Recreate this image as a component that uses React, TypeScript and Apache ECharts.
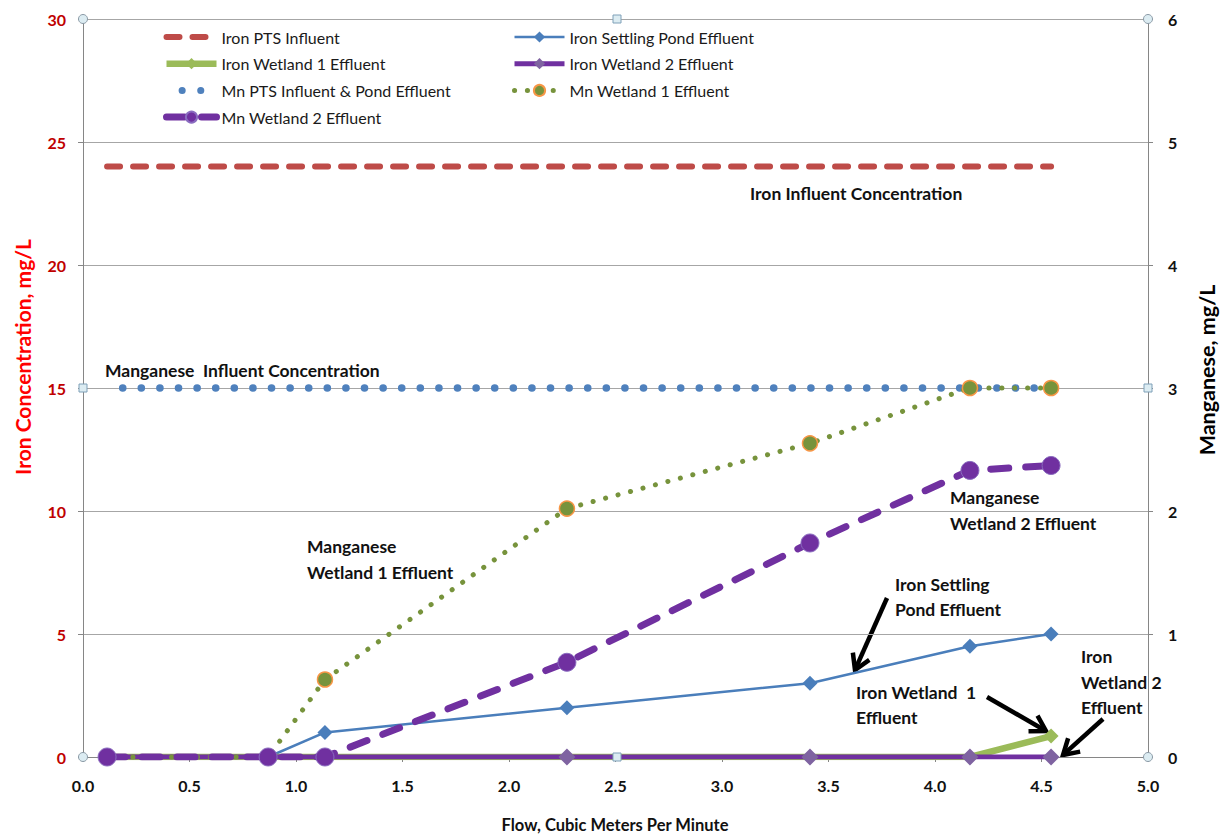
import React, { useEffect, useRef } from "react";
import * as echarts from "echarts";

const flow = [0.113, 0.869, 1.136, 2.272, 3.413, 4.164, 4.545];
const ironPTS = [24, 24, 24, 24, 24, 24, 24];
const ironPond = [0, 0, 1, 2, 3, 4.5, 5];
const ironW1 = [0, 0, 0, 0, 0, 0, 0.85];
const ironW2 = [0, 0, 0, 0, 0, 0, 0];
const mnPTS = [3, 3, 3, 3, 3, 3, 3];
const mnW1 = [0, 0, 0.63, 2.02, 2.55, 3, 3];
const mnW2 = [0, 0, 0, 0.77, 1.74, 2.33, 2.37];

const FONT = 'Lato, "Open Sans", sans-serif';

const pairs = (ys: number[]) => flow.map((x, i) => [x, ys[i]]);

function arrow(tx: number, ty: number, hx: number, hy: number) {
  const dx = hx - tx;
  const dy = hy - ty;
  const len = Math.sqrt(dx * dx + dy * dy);
  const ux = dx / len;
  const uy = dy / len;
  const nx = -uy;
  const ny = ux;
  const back = 15;
  const half = 9;
  return [
    {
      type: "line",
      shape: { x1: tx, y1: ty, x2: hx - ux * 2, y2: hy - uy * 2 },
      style: { stroke: "#000", lineWidth: 4.5, lineCap: "butt" },
    },
    {
      type: "polyline",
      shape: {
        points: [
          [hx - ux * back + nx * half, hy - uy * back + ny * half],
          [hx, hy],
          [hx - ux * back - nx * half, hy - uy * back - ny * half],
        ],
      },
      style: { stroke: "#000", lineWidth: 4.5, fill: null, lineJoin: "miter" },
    },
  ];
}

function label(text: string, x: number, y: number, lh: number) {
  return {
    type: "text",
    x,
    y,
    style: {
      text,
      fontFamily: FONT,
      fontWeight: "bold",
      fontSize: 17.5,
      lineHeight: lh,
      fill: "#111",
      align: "left",
      verticalAlign: "top",
    },
  };
}

function handleCircle(x: number, y: number) {
  return {
    type: "circle",
    shape: { cx: x, cy: y, r: 4.5 },
    style: { fill: "#dcecf2", stroke: "#8b9aa6", lineWidth: 1 },
    z: 100,
  };
}
function handleSquare(x: number, y: number) {
  return {
    type: "rect",
    shape: { x: x - 4, y: y - 4, width: 8, height: 8 },
    style: { fill: "#dcecf2", stroke: "#7fa0b8", lineWidth: 1 },
    z: 100,
  };
}

const legendText = { fontFamily: FONT, fontSize: 16, color: "#1a1a1a", lineHeight: 16 };

export default function App() {
  const ref = useRef<HTMLDivElement>(null);
  useEffect(() => {
    if (!ref.current) return;
    const chart = echarts.init(ref.current, undefined, { renderer: "svg" });
    const option: any = {
      animation: false,
      backgroundColor: "#fff",
      grid: { left: 83, right: 76, top: 19, bottom: 78, containLabel: false },
      legend: [
        {
          orient: "vertical",
          left: 158,
          top: 24,
          itemWidth: 50,
          itemHeight: 14,
          itemGap: 10.7,
          textStyle: legendText,
          data: [
            { name: "Iron PTS Influent", lineStyle: { width: 6 }, itemStyle: { opacity: 0 } },
            { name: "Iron Wetland 1 Effluent", lineStyle: { width: 6.5 } },
            { name: "Mn PTS Influent & Pond Effluent", lineStyle: { width: 7 }, itemStyle: { opacity: 0 } },
            { name: "Mn Wetland 2 Effluent", lineStyle: { width: 7 } },
          ],
          selectedMode: false,
        },
        {
          orient: "vertical",
          left: 507,
          top: 24,
          itemWidth: 50,
          itemHeight: 14,
          itemGap: 10.7,
          textStyle: legendText,
          data: [
            { name: "Iron Settling Pond Effluent", lineStyle: { width: 2.5 } },
            { name: "Iron Wetland 2 Effluent", lineStyle: { width: 5 } },
            { name: "Mn Wetland 1 Effluent", lineStyle: { width: 5 } },
          ],
          selectedMode: false,
        },
      ],
      xAxis: {
        type: "value",
        min: 0,
        max: 5,
        interval: 0.5,
        axisLine: { show: true, lineStyle: { color: "#868686", width: 1 } },
        axisTick: { show: true, length: 5, lineStyle: { color: "#868686" } },
        axisLabel: {
          formatter: (v: number) => v.toFixed(1),
          fontFamily: FONT,
          fontWeight: "bold",
          fontSize: 16,
          color: "#111",
          margin: 20,
        },
        splitLine: { show: false },
      },
      yAxis: [
        {
          type: "value",
          min: 0,
          max: 30,
          interval: 5,
          position: "left",
          axisLine: { show: true, lineStyle: { color: "#868686", width: 1 } },
          axisTick: { show: true, length: 5, lineStyle: { color: "#868686" } },
          axisLabel: {
            fontFamily: FONT,
            fontWeight: "bold",
            fontSize: 16,
            color: "#C00000",
            margin: 17,
          },
          splitLine: { show: true, lineStyle: { color: "#a6a6a6", width: 1 } },
        },
        {
          type: "value",
          min: 0,
          max: 6,
          interval: 1,
          position: "right",
          axisLine: { show: true, lineStyle: { color: "#868686", width: 1 } },
          axisTick: { show: true, length: 5, lineStyle: { color: "#868686" } },
          axisLabel: {
            fontFamily: FONT,
            fontWeight: "bold",
            fontSize: 16,
            color: "#111",
            margin: 20,
          },
          splitLine: { show: false },
        },
      ],
      series: [
        {
          name: "Iron PTS Influent",
          type: "line",
          data: pairs(ironPTS),
          symbol: "none",
          lineStyle: { color: "#BE4B48", width: 6, type: [13, 13], cap: "round" },
          itemStyle: { color: "#BE4B48" },
        },
        {
          name: "Iron Settling Pond Effluent",
          type: "line",
          data: pairs(ironPond),
          symbol: "diamond",
          symbolSize: 15,
          showAllSymbol: true,
          lineStyle: { color: "#4A7EBB", width: 2.5 },
          itemStyle: { color: "#4A7EBB" },
        },
        {
          name: "Iron Wetland 1 Effluent",
          type: "line",
          data: pairs(ironW1),
          symbol: "diamond",
          symbolSize: 15,
          showAllSymbol: true,
          lineStyle: { color: "#9BBB59", width: 6.5 },
          itemStyle: { color: "#9BBB59" },
        },
        {
          name: "Iron Wetland 2 Effluent",
          type: "line",
          data: pairs(ironW2),
          symbol: "diamond",
          symbolSize: 17,
          showAllSymbol: true,
          lineStyle: { color: "#7030A0", width: 5 },
          itemStyle: { color: "#7F63A1" },
        },
        {
          name: "Mn PTS Influent & Pond Effluent",
          type: "line",
          yAxisIndex: 1,
          data: pairs(mnPTS),
          symbol: "none",
          lineStyle: { color: "#4F81BD", width: 7.5, type: [0.1, 18.5], cap: "round", dashOffset: 2.5 },
          itemStyle: { color: "#4F81BD" },
        },
        {
          name: "Mn Wetland 1 Effluent",
          type: "line",
          yAxisIndex: 1,
          data: pairs(mnW1),
          symbol: "circle",
          symbolSize: 15,
          showAllSymbol: true,
          lineStyle: { color: "#77933C", width: 5, type: [0.1, 12.8], cap: "round" },
          itemStyle: { color: "#77933C", borderColor: "#F79646", borderWidth: 1.5 },
        },
        {
          name: "Mn Wetland 2 Effluent",
          type: "line",
          yAxisIndex: 1,
          data: pairs(mnW2),
          symbol: "circle",
          symbolSize: 18,
          showAllSymbol: true,
          lineStyle: { color: "#7030A0", width: 7, type: [18, 17], cap: "round" },
          itemStyle: { color: "#7030A0", borderColor: "#8a6cc0", borderWidth: 1 },
        },
      ],
      graphic: [
        {
          type: "text",
          x: 22,
          y: 357,
          rotation: Math.PI / 2,
          style: {
            text: "Iron Concentration, mg/L",
            fontFamily: FONT,
            fontWeight: "bold",
            fontSize: 21,
            fill: "#FF0000",
            align: "center",
            verticalAlign: "middle",
          },
        },
        {
          type: "text",
          x: 1207,
          y: 370,
          rotation: Math.PI / 2,
          style: {
            text: "Manganese, mg/L",
            fontFamily: FONT,
            fontWeight: "bold",
            fontSize: 21.5,
            fill: "#000",
            align: "center",
            verticalAlign: "middle",
          },
        },
        {
          type: "text",
          x: 615,
          y: 825,
          style: {
            text: "Flow, Cubic Meters Per Minute",
            fontFamily: FONT,
            fontWeight: "bold",
            fontSize: 16.5,
            fill: "#111",
            align: "center",
            verticalAlign: "middle",
          },
        },
        label("Iron Influent Concentration", 750, 183, 20),
        label("Manganese  Influent Concentration", 105, 360, 20),
        label("Manganese\nWetland 1 Effluent", 307, 533, 26),
        label("Manganese\nWetland 2 Effluent", 950, 484, 26),
        label("Iron Settling\nPond Effluent", 895, 572, 25),
        label("Iron Wetland  1\nEffluent", 856, 680, 25),
        label("Iron\nWetland 2\nEffluent", 1081, 644, 25.5),
        ...arrow(887, 598, 855, 670),
        ...arrow(987, 697, 1046, 731),
        ...arrow(1103, 719, 1063, 755),
        handleCircle(83, 19),
        handleCircle(1148, 19),
        handleCircle(83, 757),
        handleCircle(1148, 757),
        handleSquare(617, 19),
        handleSquare(617, 757),
        handleSquare(83, 388),
        handleSquare(1148, 388),
      ],
    };
    chart.setOption(option);
    return () => chart.dispose();
  }, []);
  return (
    <div
      ref={ref}
      style={{ position: "fixed", left: 0, top: 0, width: 1224, height: 835, background: "#fff" }}
    />
  );
}
